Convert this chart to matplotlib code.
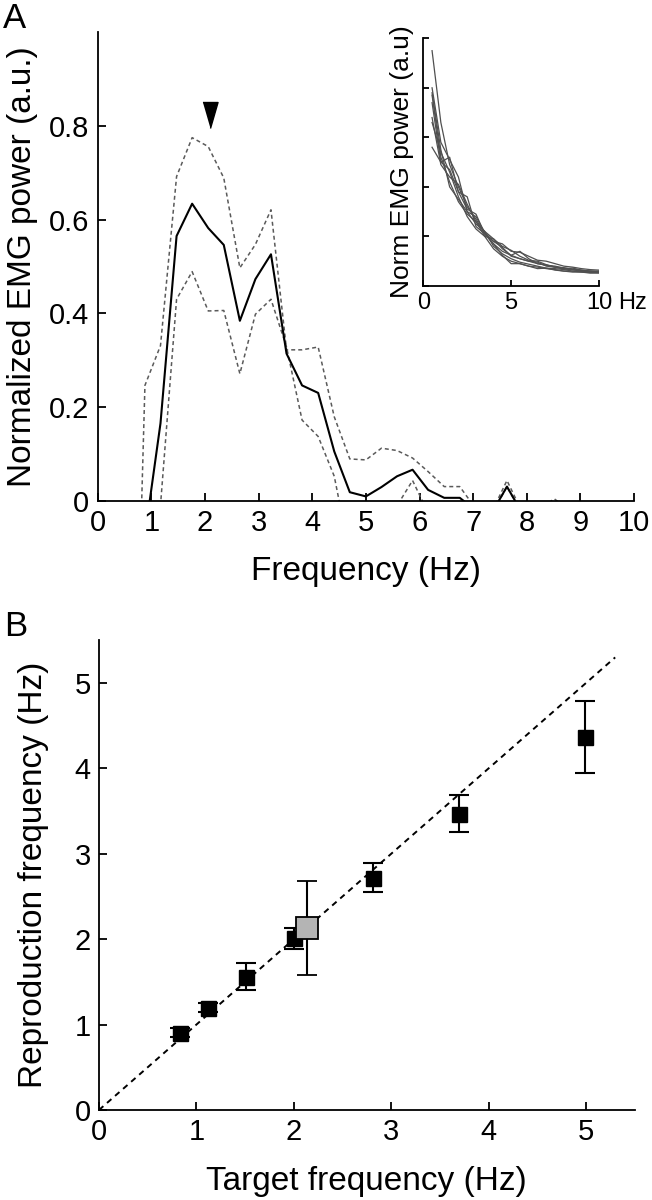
import matplotlib
matplotlib.use('Agg')
import matplotlib.pyplot as plt

plt.rcParams['font.family'] = ['Liberation Sans', 'DejaVu Sans']

# Panel A: mean normalized EMG power spectrum with +/- SD
freq_a = [0.59, 0.88, 1.17, 1.47, 1.76, 2.06, 2.35, 2.65, 2.94, 3.23, 3.52,
          3.81, 4.11, 4.41, 4.70, 5.00, 5.29, 5.58, 5.87, 6.16, 6.46, 6.75,
          7.04, 7.34, 7.63, 7.92, 8.22, 8.51, 8.80, 9.10, 9.39, 9.68, 9.98]
power_mean = [-0.30, -0.074, 0.165, 0.565, 0.634, 0.582, 0.546, 0.384, 0.473, 0.526, 0.314,
              0.246, 0.230, 0.105, 0.018, 0.009, 0.029, 0.052, 0.066, 0.023, 0.006, 0.006,
              -0.020, -0.028, 0.030, -0.028, -0.05, -0.05, -0.05, -0.05, -0.05, -0.05, -0.05]
power_upper = [-0.94, 0.246, 0.331, 0.692, 0.775, 0.756, 0.689, 0.497, 0.547, 0.621, 0.322,
               0.322, 0.328, 0.179, 0.089, 0.087, 0.112, 0.107, 0.091, 0.062, 0.030, 0.030,
               -0.016, -0.026, 0.043, -0.026, -0.020, 0.004, -0.020, -0.05, -0.05, -0.05, -0.05]
power_lower = [-1.0, -0.50, -0.010, 0.430, 0.489, 0.405, 0.406, 0.271, 0.398, 0.430, 0.328,
               0.172, 0.137, 0.052, -0.115, -0.15, -0.12, -0.011, 0.043, -0.026, -0.10, -0.10,
               -0.10, -0.030, 0.030, -0.030, -0.10, -0.10, -0.10, -0.10, -0.10, -0.10, -0.10]
peak_freq = 2.1
peak_level = 0.824

# Inset: individual normalized spectra
freq_inset = [0.5, 1.0, 1.5, 2.0, 2.5, 3.0, 3.5, 4.0, 4.5, 5.0,
              5.5, 6.0, 6.5, 7.0, 7.5, 8.0, 8.5, 9.0, 9.5, 10.0]
inset_spectra = [
    [4.75, 3.30, 2.45, 2.00, 1.60, 1.35, 1.05, 0.85, 0.70, 0.62, 0.55, 0.50, 0.45, 0.42, 0.40, 0.36, 0.34, 0.32, 0.30, 0.30],
    [4.00, 2.90, 2.55, 2.20, 1.50, 1.25, 1.10, 0.95, 0.80, 0.72, 0.60, 0.52, 0.50, 0.43, 0.38, 0.37, 0.33, 0.30, 0.30, 0.28],
    [3.85, 2.60, 2.10, 1.70, 1.45, 1.30, 1.00, 0.75, 0.60, 0.50, 0.45, 0.40, 0.38, 0.35, 0.33, 0.30, 0.30, 0.28, 0.27, 0.27],
    [3.70, 2.50, 2.60, 1.90, 1.80, 1.20, 1.05, 0.90, 0.85, 0.70, 0.68, 0.60, 0.52, 0.50, 0.45, 0.40, 0.38, 0.35, 0.33, 0.32],
    [3.40, 2.45, 2.20, 2.05, 1.65, 1.30, 1.10, 0.80, 0.65, 0.55, 0.48, 0.44, 0.40, 0.36, 0.35, 0.33, 0.30, 0.30, 0.28, 0.27],
    [3.30, 2.70, 2.30, 1.80, 1.40, 1.15, 1.00, 0.95, 0.75, 0.62, 0.70, 0.55, 0.45, 0.42, 0.38, 0.35, 0.36, 0.32, 0.30, 0.29],
    [2.80, 2.50, 2.35, 1.90, 1.55, 1.45, 1.05, 0.85, 0.62, 0.45, 0.45, 0.40, 0.35, 0.36, 0.32, 0.30, 0.28, 0.28, 0.26, 0.26],
    [3.90, 2.75, 2.00, 1.75, 1.50, 1.40, 1.08, 0.90, 0.78, 0.60, 0.55, 0.50, 0.48, 0.40, 0.38, 0.34, 0.33, 0.30, 0.29, 0.28],
]

# Panel B: target vs reproduction frequency
target_freq = [0.83, 1.12, 1.51, 2.00, 2.81, 3.70, 4.99]
repro_freq = [0.905, 1.20, 1.56, 2.01, 2.72, 3.47, 4.37]
repro_err = [0.05, 0.05, 0.16, 0.125, 0.17, 0.22, 0.42]
gray_target = 2.14
gray_repro = 2.13
gray_err = 0.55
identity_line = [0, 5.3]

label_size = 24
tick_size = 21

fig = plt.figure(figsize=(6.52, 12), dpi=100)


def style_axes(ax, ticklen):
    for side in ['top', 'right']:
        ax.spines[side].set_visible(False)
    for side in ['left', 'bottom']:
        ax.spines[side].set_linewidth(1.3)
    ax.tick_params(direction='in', length=ticklen, width=1.3)


# ---- Panel A ----
ax_a = fig.add_axes([0.1499, 0.5828, 0.8226, 0.3903])
ax_a.plot(freq_a, power_upper, color='#5a5a5a', linewidth=1.1, dashes=(2.6, 2.0))
ax_a.plot(freq_a, power_lower, color='#5a5a5a', linewidth=1.1, dashes=(2.6, 2.0))
ax_a.plot(freq_a, power_mean, color='black', linewidth=1.5)
# arrowhead marking the peak
ax_a.plot([peak_freq], [peak_level], linestyle='none', color='black',
          marker=[(-0.58, 1), (0.58, 1), (0, -1)], markersize=18.7, clip_on=False)
ax_a.set_xlim(0, 10)
ax_a.set_ylim(0, 1.0)
ax_a.set_xticks(range(0, 11))
ax_a.set_yticks([0, 0.2, 0.4, 0.6, 0.8])
ax_a.set_yticklabels(['0', '0.2', '0.4', '0.6', '0.8'])
style_axes(ax_a, 6)
ax_a.tick_params(labelsize=tick_size, pad=6)
ax_a.set_xlabel('Frequency (Hz)', fontsize=label_size, labelpad=14)
ax_a.set_ylabel('Normalized EMG power (a.u.)', fontsize=label_size, labelpad=8)

# ---- Inset ----
ax_in = fig.add_axes([0.6492, 0.7617, 0.2695, 0.2064])
for spectrum in inset_spectra:
    ax_in.plot(freq_inset, spectrum, color='#505050', linewidth=0.9)
ax_in.set_xlim(0, 10)
ax_in.set_ylim(0, 5)
ax_in.set_xticks([0, 5, 10])
ax_in.set_xticklabels(['0', '5', '10'])
ax_in.set_yticks([0, 1, 2, 3, 4, 5])
ax_in.set_yticklabels([])
style_axes(ax_in, 4)
ax_in.tick_params(labelsize=17, pad=4)
ax_in.annotate('Hz', xy=(10, 0), xycoords=('data', 'axes fraction'),
               xytext=(14, -4), textcoords='offset points', fontsize=17,
               ha='left', va='top')
ax_in.set_ylabel('Norm EMG power (a.u)', fontsize=19, labelpad=3)

# ---- Panel B ----
ax_b = fig.add_axes([0.1518, 0.075, 0.8216, 0.3914])
ax_b.plot(identity_line, identity_line, color='black', linewidth=1.4, dashes=(3, 2.5))
ax_b.errorbar(target_freq, repro_freq, yerr=repro_err, fmt='s', color='black',
              markersize=10.8, ecolor='black', elinewidth=1.5, capsize=7.5, capthick=1.5)
ax_b.errorbar([gray_target], [gray_repro], yerr=[gray_err], fmt='s',
              markerfacecolor='#b4b4b4', markeredgecolor='black', markeredgewidth=1.3,
              markersize=16, ecolor='black', elinewidth=1.5, capsize=7.5, capthick=1.5)
ax_b.set_xlim(0, 5.5)
ax_b.set_ylim(0, 5.5)
ax_b.set_xticks(range(0, 6))
ax_b.set_yticks(range(0, 6))
style_axes(ax_b, 6)
ax_b.tick_params(labelsize=tick_size, pad=6)
ax_b.set_xlabel('Target frequency (Hz)', fontsize=label_size, labelpad=14)
ax_b.set_ylabel('Reproduction frequency (Hz)', fontsize=label_size, labelpad=18)

# panel letters
fig.text(0.005, 0.998, 'A', fontsize=25, ha='left', va='top')
fig.text(0.006, 0.492, 'B', fontsize=25, ha='left', va='top')

plt.savefig('out.png', dpi=100)
